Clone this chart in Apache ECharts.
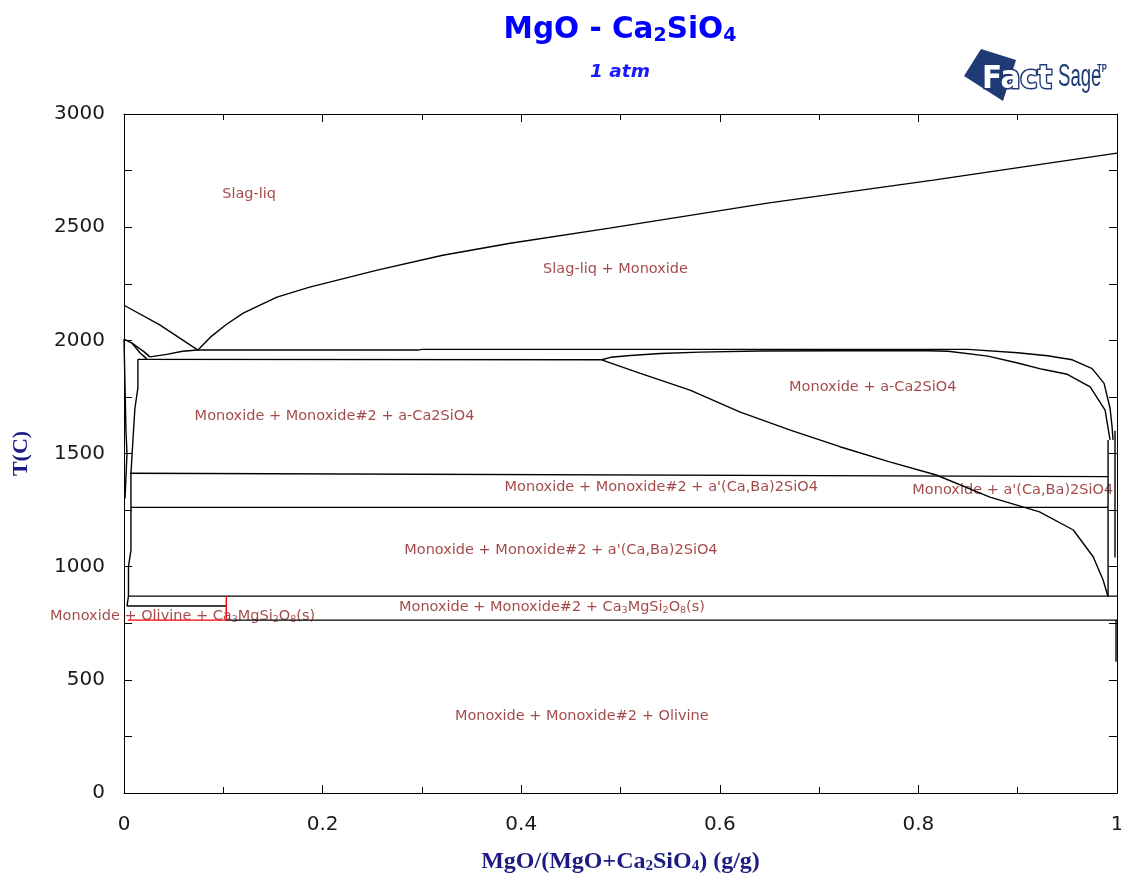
<!DOCTYPE html>
<html>
<head>
<meta charset="utf-8">
<title>MgO - Ca2SiO4</title>
<script src="https://cdn.jsdelivr.net/npm/echarts@6/dist/echarts.min.js"></script>
<style>
  html, body { margin: 0; padding: 0; background: #fff; }
  #chart { width: 1121px; height: 885px; }
</style>
</head>
<body>
<div id="chart"></div>
<script>
// phase boundaries, points are [MgO/(MgO+Ca2SiO4), T(C)]
const liquidusLeft = [[0, 2155], [0.036, 2068], [0.0745, 1957]];
const liquidusRight = [[0.0745, 1957], [0.087, 2014], [0.103, 2070], [0.12, 2120], [0.154, 2191],
  [0.187, 2235], [0.255, 2310], [0.321, 2376], [0.389, 2429], [0.489, 2496], [0.648, 2606],
  [0.815, 2708], [1.0, 2827]];
const c2sEdgeA = [[0, 2005], [0.008, 1988], [0.016, 1945], [0.023, 1918]];
const c2sEdgeB = [[0.008, 1988], [0.02, 1950], [0.026, 1927]];
const upperSolidus = [[0.026, 1927], [0.043, 1938], [0.059, 1952], [0.0745, 1957], [0.296, 1957],
  [0.3, 1960], [0.85, 1960], [0.9, 1945], [0.93, 1932], [0.955, 1914], [0.975, 1875],
  [0.987, 1810], [0.993, 1700], [0.995, 1620], [0.996, 1560]];
const lowerSolidus = [[0.014, 1916], [0.481, 1914]];
const monoxideEdge = [[0.481, 1914], [0.49, 1925], [0.51, 1933], [0.54, 1942], [0.58, 1948],
  [0.64, 1953], [0.8, 1955], [0.83, 1952], [0.87, 1930], [0.9, 1900], [0.925, 1872],
  [0.95, 1850], [0.973, 1794], [0.988, 1692], [0.993, 1560]];
const diagonal = [[0.481, 1914], [0.52, 1854], [0.57, 1780], [0.62, 1684], [0.671, 1603],
  [0.721, 1530], [0.771, 1463], [0.818, 1405], [0.872, 1307], [0.922, 1242], [0.956, 1162],
  [0.976, 1044], [0.986, 941], [0.991, 867]];
const iso1410 = [[0.006, 1413], [0.991, 1398]];
const iso1260 = [[0.007, 1262], [0.991, 1262]];
const iso870 = [[0.004, 870], [1, 870]];
const iso826 = [[0.003, 826], [0.103, 826]];
const iso764 = [[0.103, 764], [1, 764]];
const leftInner = [[0.014, 1916], [0.014, 1790], [0.011, 1700], [0.009, 1560], [0.007, 1413],
  [0.007, 1262], [0.007, 1073], [0.0045, 1000], [0.0045, 870], [0.003, 826]];
const leftOuter = [[0, 2005], [0.001, 1800], [0.002, 1600], [0.003, 1500], [0.002, 1400], [0.001, 1300]];
const rightInner = [[0.991, 1560], [0.991, 870]];
const rightEdge = [[0.998, 1600], [0.998, 1040]];
const rightLow = [[0.999, 764], [0.999, 580]];
const olivineBox = [[0.004, 764], [0.103, 764], [0.103, 870]];

const blackLines = [liquidusLeft, liquidusRight, c2sEdgeA, c2sEdgeB, upperSolidus, lowerSolidus,
  monoxideEdge, diagonal, iso1410, iso1260, iso870, iso826, iso764, leftInner, leftOuter,
  rightInner, rightEdge, rightLow];

// region labels
const labelNames = [
  'Slag-liq',
  'Slag-liq + Monoxide',
  'Monoxide + a-Ca2SiO4',
  'Monoxide + Monoxide#2 + a-Ca2SiO4',
  "Monoxide + Monoxide#2 + a'(Ca,Ba)2SiO4",
  "Monoxide + a'(Ca,Ba)2SiO4",
  "Monoxide + Monoxide#2 + a'(Ca,Ba)2SiO4",
  'Monoxide + Monoxide#2 + Ca{s|3}MgSi{s|2}O{s|8}(s)',
  'Monoxide + Olivine + Ca{s|3}MgSi{s|2}O{s|8}(s)',
  'Monoxide + Monoxide#2 + Olivine'
];
const labelX = [0.126, 0.495, 0.754, 0.212, 0.541, 0.895, 0.44, 0.431, 0.059, 0.461];
const labelT = [2646, 2314, 1793, 1665, 1352, 1338, 1073, 822, 782, 340];

const chart = echarts.init(document.getElementById('chart'));

const series = blackLines.map(d => ({
  type: 'line',
  data: d,
  symbol: 'none',
  lineStyle: { color: '#000', width: 1.4 },
  silent: true,
  clip: false
}));
series.push({
  type: 'line',
  data: olivineBox,
  symbol: 'none',
  lineStyle: { color: '#ff0000', width: 1.4 },
  silent: true,
  clip: false
});
series.push({
  type: 'scatter',
  symbolSize: 0,
  silent: true,
  data: labelNames.map((n, i) => [labelX[i], labelT[i], n]),
  label: {
    show: true,
    position: 'inside',
    formatter: p => p.data[2],
    fontFamily: 'DejaVu Sans',
    fontSize: 14.5,
    color: '#8b1a1a',
    rich: {
      s: { fontFamily: 'DejaVu Sans', fontSize: 9.5, color: '#8b1a1a', padding: [7, 0, 0, 0] }
    }
  }
});

const frameLine = { show: true, onZero: false, lineStyle: { color: '#000', width: 1 } };
const tickStyle = { lineStyle: { color: '#000', width: 1 } };
const plainNum = v => String(v);

const option = {
  animation: false,
  grid: { left: 124, top: 114, width: 993, height: 679, containLabel: false, outerBoundsMode: 'none' },
  xAxis: [{
    type: 'value', min: 0, max: 1, interval: 0.2,
    name: 'MgO/(MgO+Ca{s|2}SiO{s|4}) (g/g)',
    nameLocation: 'middle', nameGap: 56,
    nameTextStyle: {
      fontFamily: 'Liberation Serif', fontWeight: 'bold', fontSize: 24, color: '#1c1c84',
      rich: { s: { fontFamily: 'Liberation Serif', fontWeight: 'bold', fontSize: 15, color: '#1c1c84', padding: [10, 0, 0, 0] } }
    },
    axisLine: frameLine,
    axisTick: { show: true, inside: true, length: 8, ...tickStyle },
    minorTick: { show: true, splitNumber: 2, length: 6, ...tickStyle },
    axisLabel: { margin: 22, fontFamily: 'DejaVu Sans', fontSize: 20, color: '#1a1a1a', formatter: plainNum },
    splitLine: { show: false }
  }, {
    type: 'value', min: 0, max: 1, interval: 0.2, position: 'top',
    axisLine: frameLine,
    axisTick: { show: true, inside: true, length: 8, ...tickStyle },
    minorTick: { show: true, splitNumber: 2, length: 6, ...tickStyle },
    axisLabel: { show: false },
    splitLine: { show: false }
  }],
  yAxis: [{
    type: 'value', min: 0, max: 3000, interval: 500,
    name: 'T(C)',
    nameLocation: 'middle', nameRotate: 90, nameGap: 92,
    nameTextStyle: { fontFamily: 'Liberation Serif', fontWeight: 'bold', fontSize: 22, color: '#1c1c84' },
    axisLine: frameLine,
    axisTick: { show: true, inside: true, length: 8, ...tickStyle },
    minorTick: { show: true, splitNumber: 2, length: 8, ...tickStyle },
    axisLabel: { margin: 19, fontFamily: 'DejaVu Sans', fontSize: 20, color: '#1a1a1a', formatter: plainNum },
    splitLine: { show: false }
  }, {
    type: 'value', min: 0, max: 3000, interval: 500, position: 'right',
    axisLine: frameLine,
    axisTick: { show: true, inside: true, length: 8, ...tickStyle },
    minorTick: { show: true, splitNumber: 2, length: 8, ...tickStyle },
    axisLabel: { show: false },
    splitLine: { show: false }
  }],
  graphic: [
    {
      type: 'text', x: 620, y: 30,
      style: {
        text: 'MgO - Ca{s|2}SiO{s|4}',
        align: 'center', verticalAlign: 'middle',
        fontFamily: 'DejaVu Sans', fontWeight: 'bold', fontSize: 29.5, fill: '#0000ff',
        rich: { s: { fontFamily: 'DejaVu Sans', fontWeight: 'bold', fontSize: 19, fill: '#0000ff', padding: [13, 0, 0, 0] } }
      }
    },
    {
      type: 'text', x: 620, y: 72,
      style: {
        text: '1 atm', align: 'center', verticalAlign: 'middle',
        fontFamily: 'DejaVu Sans', fontWeight: 'bold', fontStyle: 'italic', fontSize: 18.5, fill: '#1a1aff'
      }
    },
    // FactSage logo
    {
      type: 'polygon',
      shape: { points: [[964, 76], [981, 49], [1016, 60], [1003, 101]] },
      style: { fill: '#1f3a75' }
    },
    {
      type: 'text', x: 982, y: 80, scaleX: 0.92,
      style: {
        text: 'Fact', verticalAlign: 'middle',
        fontFamily: 'DejaVu Sans', fontWeight: 'bold', fontSize: 32,
        fill: '#fff', stroke: '#1f3a75', lineWidth: 3
      }
    },
    {
      type: 'text', x: 1058, y: 77, scaleX: 0.6,
      style: {
        text: 'Sage', verticalAlign: 'middle',
        fontFamily: 'Liberation Sans', fontSize: 31, fill: '#1f3a75'
      }
    },
    {
      type: 'text', x: 1097, y: 69, scaleX: 0.7,
      style: { text: 'TP', verticalAlign: 'middle', fontFamily: 'Liberation Sans', fontWeight: 'bold', fontSize: 11, fill: '#1f3a75' }
    }
  ],
  series: series
};

chart.setOption(option);
</script>
</body>
</html>
